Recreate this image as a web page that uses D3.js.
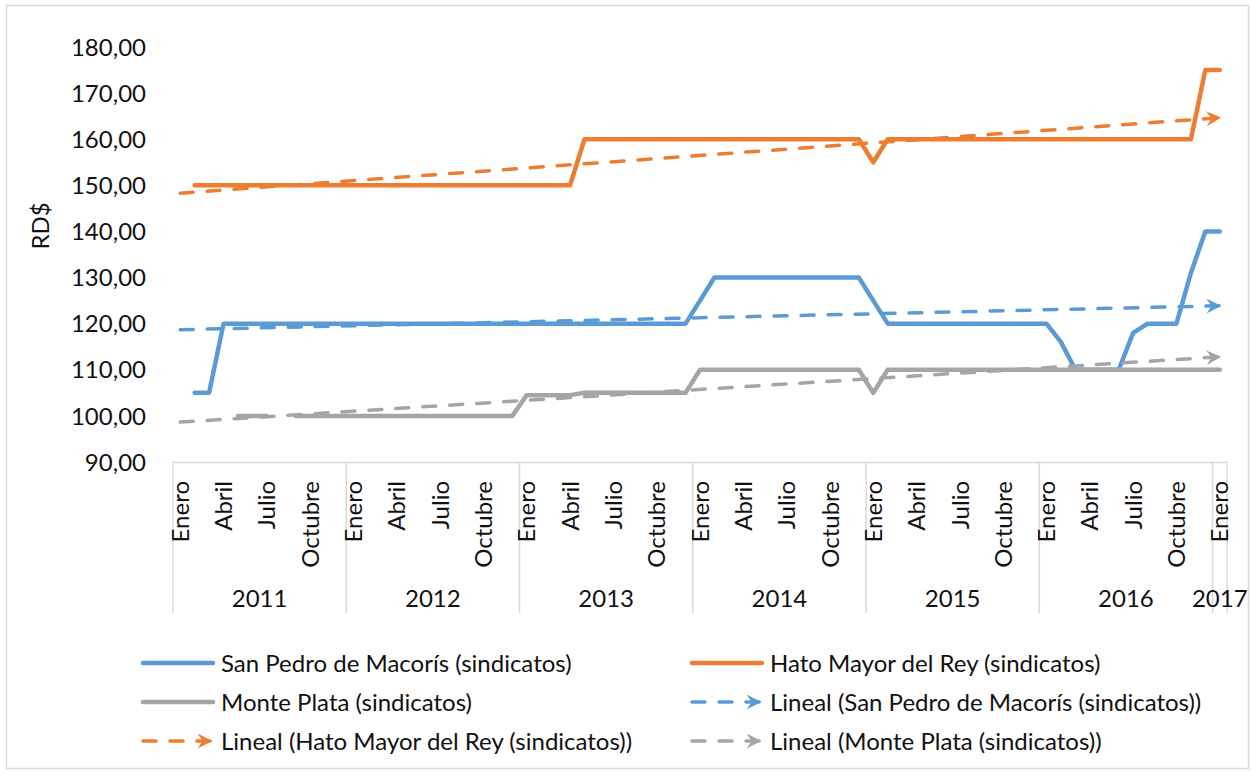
<!DOCTYPE html>
<html>
<head>
<meta charset="utf-8">
<script src="https://cdn.jsdelivr.net/npm/d3@7"></script>
<style>
  body { margin: 0; background: #fff; }
  text { font-family: Lato, "Open Sans", sans-serif; fill: #111; }
</style>
</head>
<body>
<div id="chart"></div>
<script>
// monthly wages, Jan 2011 .. Jan 2017 (73 months)
var years = ["2011", "2012", "2013", "2014", "2015", "2016", "2017"];
var monthNames = ["Enero", "Febrero", "Marzo", "Abril", "Mayo", "Junio", "Julio",
                  "Agosto", "Septiembre", "Octubre", "Noviembre", "Diciembre"];
var yTicks = [90, 100, 110, 120, 130, 140, 150, 160, 170, 180];

var sanPedro = [
  null, 105, 105, 120, 120, 120, 120, 120, 120, 120, 120, 120,
  120, 120, 120, 120, 120, 120, 120, 120, 120, 120, 120, 120,
  120, 120, 120, 120, 120, 120, 120, 120, 120, 120, 120, 120,
  125, 130, 130, 130, 130, 130, 130, 130, 130, 130, 130, 130,
  125, 120, 120, 120, 120, 120, 120, 120, 120, 120, 120, 120,
  120, 116, 110, 110, 110, 110, 118, 120, 120, 120, 131, 140,
  140];
var hatoMayor = [
  null, 150, 150, 150, 150, 150, 150, 150, 150, 150, 150, 150,
  150, 150, 150, 150, 150, 150, 150, 150, 150, 150, 150, 150,
  150, 150, 150, 150, 160, 160, 160, 160, 160, 160, 160, 160,
  160, 160, 160, 160, 160, 160, 160, 160, 160, 160, 160, 160,
  155, 160, 160, 160, 160, 160, 160, 160, 160, 160, 160, 160,
  160, 160, 160, 160, 160, 160, 160, 160, 160, 160, 160, 175,
  175];
var montePlata = [
  null, null, null, null, 100, 100, 100, null, 100, 100, 100, 100,
  100, 100, 100, 100, 100, 100, 100, 100, 100, 100, 100, 100,
  104.5, 104.5, 104.5, 104.5, 105, 105, 105, 105, 105, 105, 105, 105,
  110, 110, 110, 110, 110, 110, 110, 110, 110, 110, 110, 110,
  105, 110, 110, 110, 110, 110, 110, 110, 110, 110, 110, 110,
  110, 110, 110, 110, 110, 110, 110, 110, 110, 110, 110, 110,
  110];

var seriesNames = ["San Pedro de Macorís (sindicatos)", "Hato Mayor del Rey (sindicatos)", "Monte Plata (sindicatos)"];
var colors = ["#5b9bd5", "#ed7d31", "#a5a5a5"];
var seriesData = [sanPedro, hatoMayor, montePlata];

var W = 1252, H = 773, FS = "24px";
var svg = d3.select("#chart").append("svg").attr("width", W).attr("height", H);

// outer chart border
svg.append("rect").attr("x", 6.5).attr("y", 5.5).attr("width", 1242).attr("height", 763)
   .attr("fill", "#fff").attr("stroke", "#d9d9d9").attr("stroke-width", 1.5);

var n = sanPedro.length;
var x = d3.scaleBand().domain(d3.range(n)).range([173, 1227]);
var cx = function(i) { return x(i) + x.bandwidth() / 2; };
var y = d3.scaleLinear().domain([90, 180]).range([462, 47]);

// y tick labels
svg.append("g").selectAll("text").data(yTicks).enter().append("text")
   .attr("x", 146).attr("y", function(d) { return y(d); }).attr("dy", "0.36em")
   .attr("text-anchor", "end").style("font-size", FS)
   .text(function(d) { return d3.format(".2f")(d).replace(".", ","); });

svg.append("text").attr("transform", "translate(40,226) rotate(-90)")
   .attr("text-anchor", "middle").attr("dy", "0.36em").style("font-size", FS).text("RD$");

// category axis: base line and year separators
svg.append("line").attr("x1", 173).attr("x2", 1227).attr("y1", 462.5).attr("y2", 462.5)
   .attr("stroke", "#d9d9d9").attr("stroke-width", 1.5);
var seps = d3.range(0, n, 12).concat([n]);
svg.append("g").selectAll("line").data(seps).enter().append("line")
   .attr("x1", function(i) { return i < n ? x(i) : x(n - 1) + x.bandwidth(); })
   .attr("x2", function(i) { return i < n ? x(i) : x(n - 1) + x.bandwidth(); })
   .attr("y1", 462).attr("y2", 613).attr("stroke", "#d9d9d9").attr("stroke-width", 1.5);

// month labels every 3 months
var monthIdx = d3.range(n).filter(function(i) { return i % 3 === 0; });
svg.append("g").selectAll("text").data(monthIdx).enter().append("text")
   .attr("transform", function(i) { return "translate(" + cx(i) + ",481) rotate(-90)"; })
   .attr("text-anchor", "end").attr("dy", "0.36em").style("font-size", FS)
   .text(function(i) { return monthNames[i % 12]; });

// year labels
svg.append("g").selectAll("text").data(years).enter().append("text")
   .attr("x", function(d, k) {
      var a = x(k * 12), last = Math.min(k * 12 + 11, n - 1);
      return (a + x(last) + x.bandwidth()) / 2;
   })
   .attr("y", 598).attr("dy", "0.36em").attr("text-anchor", "middle").style("font-size", FS)
   .text(function(d) { return d; });

// arrow markers for trend lines
var defs = svg.append("defs");
colors.forEach(function(c, k) {
  defs.append("marker").attr("id", "arr" + k).attr("viewBox", "0 0 10 10")
      .attr("refX", 9).attr("refY", 5).attr("markerWidth", 17).attr("markerHeight", 15)
      .attr("markerUnits", "userSpaceOnUse").attr("orient", "auto")
    .append("path").attr("d", "M0,0 L10,5 L0,10 L3.5,5 Z").attr("fill", c);
});

// series lines
var line = d3.line().defined(function(d) { return d != null; })
   .x(function(d, i) { return cx(i); }).y(function(d) { return y(d); });
seriesData.forEach(function(vals, k) {
  svg.append("path").datum(vals).attr("d", line).attr("fill", "none")
     .attr("stroke", colors[k]).attr("stroke-width", 4.5)
     .attr("stroke-linejoin", "round").attr("stroke-linecap", "round");
});

// linear trend lines (least squares over the months that have data)
seriesData.forEach(function(vals, k) {
  var pts = vals.map(function(v, i) { return [i, v]; }).filter(function(p) { return p[1] != null; });
  var mx = d3.mean(pts, function(p) { return p[0]; }), my = d3.mean(pts, function(p) { return p[1]; });
  var b = d3.sum(pts, function(p) { return (p[0] - mx) * (p[1] - my); }) /
          d3.sum(pts, function(p) { return (p[0] - mx) * (p[0] - mx); });
  var a = my - b * mx;
  svg.append("line").attr("x1", cx(0)).attr("y1", y(a)).attr("x2", cx(n - 1)).attr("y2", y(a + b * (n - 1)))
     .attr("stroke", colors[k]).attr("stroke-width", 3.5).attr("stroke-dasharray", "13,14")
     .attr("stroke-linecap", "round").attr("marker-end", "url(#arr" + k + ")");
});

// legend, two columns
var legendItems = [
  {label: seriesNames[0], c: 0, trend: false},
  {label: seriesNames[1], c: 1, trend: false},
  {label: seriesNames[2], c: 2, trend: false},
  {label: "Lineal (" + seriesNames[0] + ")", c: 0, trend: true},
  {label: "Lineal (" + seriesNames[1] + ")", c: 1, trend: true},
  {label: "Lineal (" + seriesNames[2] + ")", c: 2, trend: true}
];
var colX = [143, 692], rowY = [663, 702, 741];
var lg = svg.append("g").selectAll("g").data(legendItems).enter().append("g")
   .attr("transform", function(d, i) { return "translate(" + colX[i % 2] + "," + rowY[Math.floor(i / 2)] + ")"; });
lg.append("line").attr("x1", 0).attr("x2", function(d) { return d.trend ? 68 : 70; })
   .attr("y1", 0).attr("y2", 0)
   .attr("stroke", function(d) { return colors[d.c]; })
   .attr("stroke-width", function(d) { return d.trend ? 3.5 : 4.5; })
   .attr("stroke-linecap", "round")
   .attr("stroke-dasharray", function(d) { return d.trend ? "13,14" : null; })
   .attr("marker-end", function(d) { return d.trend ? "url(#arr" + d.c + ")" : null; });
lg.append("text").attr("x", 78).attr("dy", "0.36em").style("font-size", FS)
   .text(function(d) { return d.label; });
</script>
</body>
</html>
